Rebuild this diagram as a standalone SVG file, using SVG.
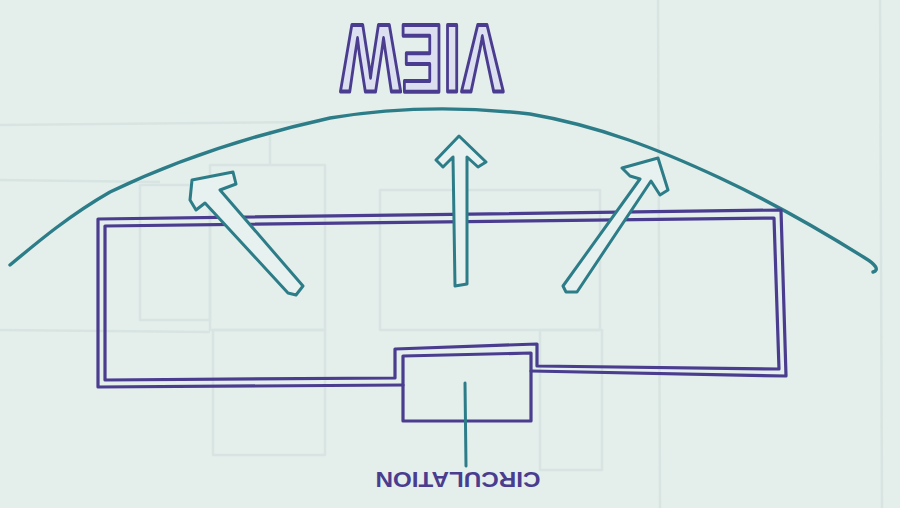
<svg xmlns="http://www.w3.org/2000/svg" width="900" height="508" viewBox="0 0 900 508">
<defs>
<style>
.paper{fill:#e4efec}
.ghost{fill:none;stroke:#d8e4e1;stroke-width:2.5;stroke-linejoin:round}
.wall{fill:none;stroke:#4a3d8f;stroke-width:3.2;stroke-linejoin:round;stroke-linecap:round}
.teal{fill:#e7f1ef;stroke:#2d7d89;stroke-width:3;stroke-linejoin:round;stroke-linecap:round}
.arc{fill:none;stroke:#2d7d89;stroke-width:3.4;stroke-linecap:round;stroke-linejoin:round}
.stem{fill:none;stroke:#2d7d89;stroke-width:3;stroke-linecap:round}
.view{font-family:"Liberation Sans",Arial,sans-serif;font-weight:bold;font-size:64px;fill:#dcdff0;stroke:#4a3d8f;stroke-width:2.8;stroke-linejoin:round}
.label{font-family:"Liberation Sans",Arial,sans-serif;font-weight:bold;font-size:22px;fill:#4a3d8f}
</style>
</defs>
<rect class="paper" x="0" y="0" width="900" height="508"/>
<g id="show-through">
<path class="ghost" d="M0,125 L320,122 M0,180 L160,182 M0,330 L210,332"/>
<rect class="ghost" x="140" y="185" width="70" height="135"/>
<rect class="ghost" x="210" y="165" width="115" height="165"/>
<rect class="ghost" x="213" y="330" width="112" height="125"/>
<rect class="ghost" x="380" y="190" width="220" height="140"/>
<rect class="ghost" x="540" y="330" width="62" height="140"/>
<path class="ghost" d="M658,0 L660,508 M880,0 L882,508 M270,130 L270,165"/>
</g>
<g id="horizon">
<path class="arc" d="M10,265 C40,240 70,215 110,192 C160,168 230,140 330,118 C390,108 460,106 530,114 C600,126 660,150 720,178 C780,206 830,236 865,258 C875,264 880,270 873,272"/>
</g>
<g id="room">
<path class="wall" d="M403,385 L98,387 L98,219 L781,210 L786,376 L531,371"/>
<path class="wall" d="M395,378 L105,380 L105,226 L774,218 L779,369 L537,366 L537,344 L395,349 Z"/>
</g>
<g id="circulation-box">
<path class="wall" d="M403,356 L531,353 L531,421 L403,421 Z"/>
</g>
<g id="connectors">
<path class="teal" d="M192,180 L233,172 L236,184 L220,190 L303,286 L296,295 L288,293 L205,203 L196,210 L190,200 Z"/>
<path class="teal" d="M459,136 L486,162 L478,167 L467,157 L467,284 L455,286 L453,157 L443,167 L436,160 Z"/>
<path class="teal" d="M658,158 L668,190 L660,195 L651,181 L577,292 L566,292 L563,286 L640,179 L630,176 L622,168 Z"/>
<path class="stem" d="M465,383 L466,466"/>
</g>
<g id="labels">
<text class="view" transform="translate(422,60) rotate(180) scale(1,1.5)" x="0" y="23" text-anchor="middle">VIEW</text>
<text class="label" transform="translate(458,480) rotate(180)" x="0" y="8" text-anchor="middle" textLength="165" lengthAdjust="spacingAndGlyphs">CIRCULATION</text>
</g>
</svg>
